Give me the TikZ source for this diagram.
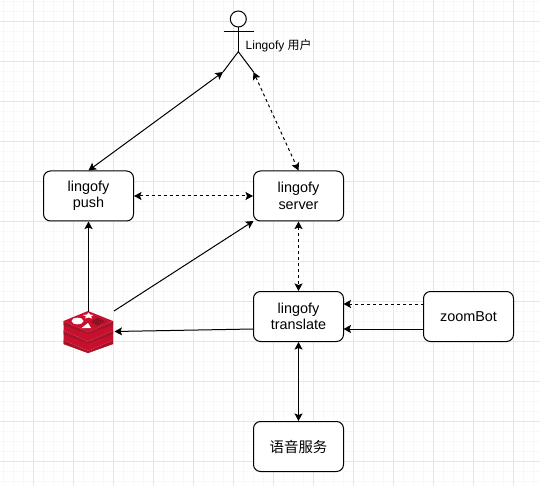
\documentclass[tikz,border=0pt]{standalone}
\usepackage{fontspec}
\setmainfont{Liberation Sans}
\newfontfamily\cjk{Noto Sans CJK SC}
\usetikzlibrary{arrows.meta}
\definecolor{gridmajor}{HTML}{E6E6E6}
\definecolor{gridminor}{HTML}{F8F8F8}
\definecolor{redtop}{HTML}{C8102E}
\definecolor{redside}{HTML}{A5152A}
\definecolor{redline}{HTML}{E0606A}
\tikzset{
  x=1pt,y=-1pt,
  svc/.style={draw=black,fill=white,rounded corners=7pt,minimum width=90pt,minimum height=50pt,line width=1pt,inner sep=0pt,align=center,font=\fontsize{14.4}{16.5}\selectfont},
  conn/.style={line width=1pt,draw=black},
  solidboth/.style={conn,{Stealth[length=7.5pt,width=8pt,inset=1.5pt]}-{Stealth[length=7.5pt,width=8pt,inset=1.5pt]}},
  solidone/.style={conn,-{Stealth[length=7.5pt,width=8pt,inset=1.5pt]}},
  dashboth/.style={solidboth,dash pattern=on 3pt off 3pt},
  dashone/.style={solidone,dash pattern=on 3pt off 3pt},
  actorline/.style={line width=1pt,draw=black},
}
\begin{document}
\begin{tikzpicture}
\useasboundingbox (0,0) rectangle (540,486);
\fill[white] (0,0) rectangle (540,486);
% grid
\foreach \i in {0,...,53} \draw[gridminor,line width=1pt] ({3.5+10*\i},0) -- ({3.5+10*\i},486);
\foreach \i in {0,...,48} \draw[gridminor,line width=1pt] (0,{1.5+10*\i}) -- (540,{1.5+10*\i});
\foreach \i in {0,...,12} \draw[gridmajor,line width=1pt] ({33.5+40*\i},0) -- ({33.5+40*\i},486);
\foreach \i in {0,...,11} \draw[gridmajor,line width=1pt] (0,{21.5+40*\i}) -- (540,{21.5+40*\i});
% boxes
\node[svc] (push) at (88.5,196) {lingofy\\push};
\node[svc] (server) at (298.5,196) {lingofy\\server};
\node[svc] (translate) at (298.5,316.5) {lingofy\\translate};
\node[svc] (zoombot) at (468.5,316.5) {zoomBot};
\node[svc] (speech) at (298.5,446.5) {\cjk 语音服务};
% actor
\node[circle,draw=black,fill=white,line width=1pt,minimum size=16pt,inner sep=0pt] (head) at (238.3,19) {};
\coordinate (hip) at (238.3,51.7);
\coordinate (armL) at (223.5,31.5);
\coordinate (armR) at (253.5,31.5);
\coordinate (legL) at (223,72);
\coordinate (legR) at (253.5,72);
\draw[actorline] (head.south) -- (hip);
\draw[actorline] (armL) -- (armR);
\draw[actorline] (legL) -- (hip) -- (legR);
\node[anchor=west,inner sep=0pt,font=\fontsize{12}{13}\selectfont] (userlabel) at (245.5,45.5) {Lingofy {\cjk 用户}};
% redis icon
\coordinate (rL) at (63.5,321);
\coordinate (rT) at (88,311);
\coordinate (rR) at (113,321);
\coordinate (rB) at (88,332);
\fill[redtop] (63.5,321) -- (113,321) -- (113,344) -- (88,353) -- (63.5,344) -- cycle;
\foreach \d in {19,9.5,0}{
  \fill[redside] ([yshift=-\d pt]rL) -- ([yshift=-\d pt]rB) -- ([yshift=-\d pt]rR) -- ([yshift={-\d pt-4pt}]rR) -- ([yshift={-\d pt-2pt}]rB) -- ([yshift={-\d pt-4pt}]rL) -- cycle;
  \fill[redtop] ([yshift=-\d pt]rL) -- ([yshift=-\d pt]rT) -- ([yshift=-\d pt]rR) -- ([yshift=-\d pt]rB) -- cycle;
  \draw[redline,line width=0.4pt,dash pattern=on 1pt off 1pt] ([yshift=-\d pt]rL) -- ([yshift=-\d pt]rB) -- ([yshift=-\d pt]rR);
}
\fill[white] (77.5,321) ellipse [x radius=6pt,y radius=3.3pt];
\fill[white] (88.5,312.5) -- (90,314.5) -- (93.5,315) -- (91,316.5) -- (92,318.5) -- (88.5,317.5) -- (85,318.5) -- (86,316.5) -- (83,315) -- (87,314.5) -- cycle;
\fill[white] (81.5,328) -- (91,328) -- (88,323) -- cycle;
\fill[redside!85!black] (91,321.5) -- (98,317.5) -- (105,321.5) -- (97,325.5) -- cycle;
\coordinate (redisN) at (88.5,312);
\coordinate (redisNE) at (114,311);
\coordinate (redisE) at (114.5,331.5);
\coordinate (zbDash) at (423.5,304);
\coordinate (trDash) at (343.5,304);
\coordinate (zbSolid) at (423.5,329);
\coordinate (trSolid) at (343.5,329);
\coordinate (trWest) at (253.5,329);
\coordinate (svWest) at (253.5,221);
% connectors
\draw[solidboth] (legL) -- (push.north);
\draw[dashboth] (legR) -- (server.north);
\draw[dashboth] (push.east) -- (server.west);
\draw[solidone] (redisN) -- (push.south);
\draw[solidone] (redisNE) -- (svWest);
\draw[solidone] (trWest) -- (redisE);
\draw[dashboth] (server.south) -- (translate.north);
\draw[dashone] (zbDash) -- (trDash);
\draw[solidone] (zbSolid) -- (trSolid);
\draw[solidboth] (translate.south) -- (speech.north);
\end{tikzpicture}
\end{document}
